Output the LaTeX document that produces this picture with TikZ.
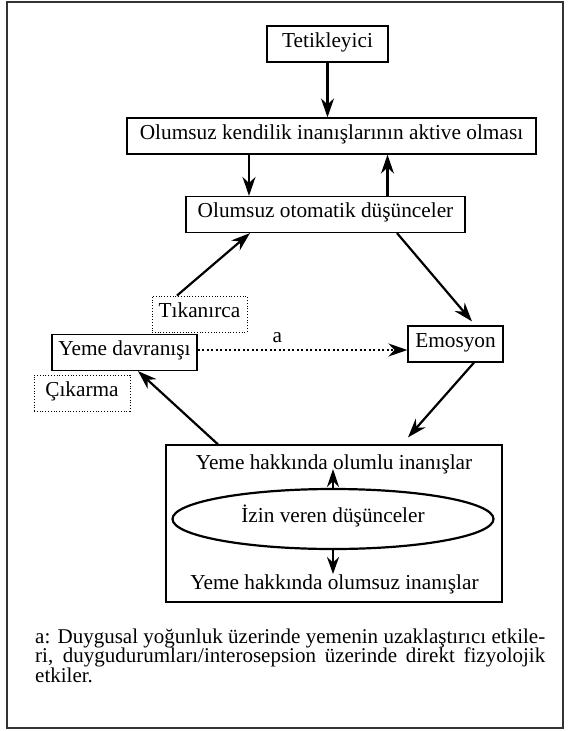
\documentclass[tikz,border=0pt]{standalone}
\usepackage{fontspec}
\setmainfont{Liberation Serif}
\usetikzlibrary{shapes,arrows.meta}

\begin{document}
\begin{tikzpicture}[x=1pt,y=-1pt,font=\fontsize{21.3}{20}\selectfont,
box/.style={draw=black,line width=1.2pt,inner sep=0pt,minimum height=36pt,text height=0.75em,text depth=0.15em},
dotbox/.style={box,line width=0.9pt,dash pattern=on 1pt off 1.8pt},
arr/.style={line width=2.2pt,-{Stealth[length=19pt,width=13pt]}},
dotarr/.style={line width=2pt,dash pattern=on 2pt off 2.5pt,-{Stealth[length=19pt,width=13pt]}}]
\useasboundingbox (0,0) rectangle (568,731);
%Frame
\draw [line width=1.2pt,black!80] (7,2) rectangle (563,728);
%Node Coordinates
\node at (327.5,44) [box,minimum width=121pt] (Tetik) {Tetikleyici};
\node at (331.5,136) [box,minimum width=409pt] (Kendilik) {Olumsuz kendilik inanışlarının aktive olması};
\node at (325.5,214.5) [box,minimum width=279pt] (Otomatik) {Olumsuz otomatik düşünceler};
\node at (199.5,314) [dotbox,minimum width=95pt] (Tikan) {Tıkanırca};
\node at (124.5,352.5) [box,minimum width=145pt] (Yeme) {Yeme davranışı};
\node at (82,393) [dotbox,minimum width=96pt] (Cikar) {Çıkarma};
\node at (455.5,344) [box,minimum width=95pt] (Emosyon) {Emosyon};
\node at (334,523.5) [box,minimum width=336pt,minimum height=157pt] (Inanis) {};
\node at (333,519) [ellipse,draw=black,line width=2.2pt,inner sep=0pt,minimum width=321pt,minimum height=60pt,text height=0.75em,text depth=0.15em] (Izin) {İzin veren düşünceler};
%Node Labels
\node at (334,469) [anchor=base,inner sep=0pt] (Olumlu) {Yeme hakkında olumlu inanışlar};
\node at (334.5,589) [anchor=base,inner sep=0pt] (Olumsuz) {Yeme hakkında olumsuz inanışlar};
%connections
\draw [arr] (Tetik.south) -- (Tetik.south |- Kendilik.north);
\draw [arr] ([xshift=-76.5pt]Otomatik.north |- Kendilik.south) -- ([xshift=-76.5pt]Otomatik.north);
\draw [arr] ([xshift=62pt]Otomatik.north) -- ([xshift=62pt]Otomatik.north |- Kendilik.south);
\draw [arr] ([xshift=-22.5pt]Tikan.north) -- ([xshift=-75.5pt]Otomatik.south);
\draw [arr] ([xshift=71.5pt]Otomatik.south) -- ([xshift=16.5pt,yshift=4pt]Emosyon.north);
\draw [arr] ([xshift=18.5pt]Emosyon.south) -- ([xshift=74pt,yshift=7pt]Inanis.north);
\draw [arr] ([xshift=-116pt]Inanis.north) -- ([xshift=13.5pt]Yeme.south);
\draw [dotarr] ([yshift=2.5pt]Yeme.east) -- ([yshift=2.5pt]Yeme.east -| Emosyon.west) node [pos=0.38,above=3pt] {a};
\draw [arr,-{Stealth[length=18pt,width=12pt]}] (Izin.north) -- (Izin.north |- Olumlu.base);
\draw [arr,-{Stealth[length=17pt,width=12pt]}] (Izin.south) -- (Izin.south |- Olumsuz.north);
%Note
\node at (35,628.5) [anchor=north west,inner sep=0pt,text width=510pt,align=justify,font=\fontsize{21}{19.7}\selectfont] (Dipnot) {a: Duygusal yoğunluk üzerinde yemenin uzaklaştırıcı etkile-\linebreak ri, duygudurumları/interosepsion üzerinde direkt fizyolojik\linebreak etkiler.};

\end{tikzpicture}
\end{document}
